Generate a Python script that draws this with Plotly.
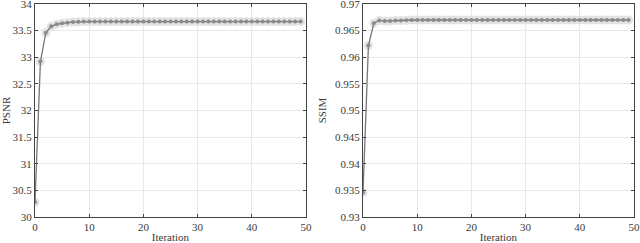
import plotly.graph_objects as go
from plotly.subplots import make_subplots

iterations = list(range(50))
psnr = [30.28, 32.92, 33.46, 33.58, 33.62, 33.64, 33.65, 33.66, 33.665] + [33.67] * 41
ssim = [0.9346, 0.9622, 0.9664, 0.9669, 0.9668, 0.9668, 0.9669, 0.9669, 0.96695] + [0.9670] * 41

psnr_ticks = [30, 30.5, 31, 31.5, 32, 32.5, 33, 33.5, 34]
psnr_ticktext = ["30", "30.5", "31", "31.5", "32", "32.5", "33", "33.5", "34"]
ssim_ticks = [0.93, 0.935, 0.94, 0.945, 0.95, 0.955, 0.96, 0.965, 0.97]
ssim_ticktext = ["0.93", "0.935", "0.94", "0.945", "0.95", "0.955", "0.96", "0.965", "0.97"]
x_ticks = [0, 10, 20, 30, 40, 50]

fig = make_subplots(rows=1, cols=2)

for col, vals in [(1, psnr), (2, ssim)]:
    fig.add_trace(go.Scatter(x=iterations, y=vals, mode="markers",
                             marker=dict(size=9, color="#e2e2e2"),
                             showlegend=False, hoverinfo="skip"), row=1, col=col)
    fig.add_trace(go.Scatter(x=iterations, y=vals, mode="lines+markers",
                             line=dict(color="#777777", width=1.3),
                             marker=dict(size=4, color="#8a8a8a"),
                             showlegend=False), row=1, col=col)

font = dict(family="Liberation Serif, DejaVu Serif, serif", size=11, color="#3a3a3a")
axis_common = dict(showline=True, linecolor="#444", linewidth=1, mirror="ticks",
                   ticks="inside", ticklen=3, tickcolor="#444",
                   showgrid=True, gridcolor="#e8e8e8", gridwidth=1,
                   zeroline=False, tickfont=font, automargin=False,
                   ticklabeloverflow="allow")

fig.update_xaxes(range=[0, 50], tickvals=x_ticks, title=dict(text="Iteration", font=font, standoff=6),
                 **axis_common)
fig.update_yaxes(**axis_common)
fig.update_yaxes(range=[30, 34], tickvals=psnr_ticks, ticktext=psnr_ticktext,
                 title=dict(text="PSNR", font=font, standoff=6), row=1, col=1)
fig.update_yaxes(range=[0.93, 0.97], tickvals=ssim_ticks, ticktext=ssim_ticktext,
                 title=dict(text="SSIM", font=font, standoff=6), row=1, col=2)

ydom = [26 / 243, 239 / 243]
fig.update_layout(
    width=640, height=243,
    margin=dict(l=0, r=0, t=0, b=0, autoexpand=False),
    paper_bgcolor="white", plot_bgcolor="white",
    xaxis=dict(domain=[35 / 640, 306 / 640]),
    xaxis2=dict(domain=[363 / 640, 634 / 640]),
    yaxis=dict(domain=ydom),
    yaxis2=dict(domain=ydom),
    font=font,
)

fig.write_html("out.html", config={"displayModeBar": False},
               post_script="document.body.style.margin='0';document.body.style.overflow='hidden';")
